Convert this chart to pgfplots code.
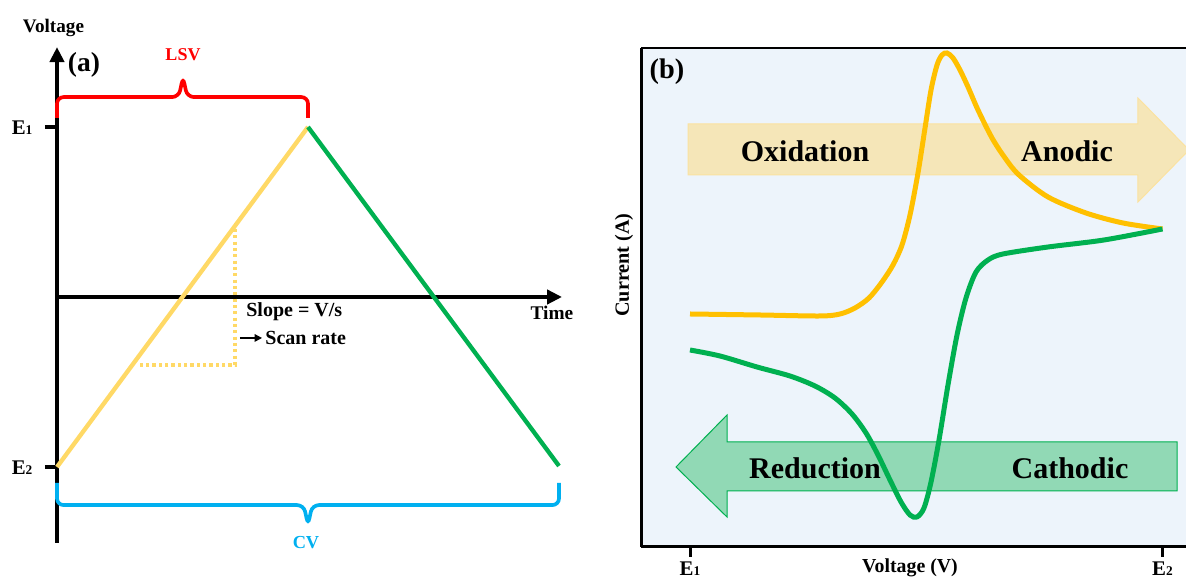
\documentclass[border=0pt]{standalone}
\usepackage{pgfplots}
\pgfplotsset{compat=1.18}
\usepackage{fontspec}
\setmainfont{Liberation Serif}
\usetikzlibrary{arrows.meta}
\definecolor{lyel}{HTML}{FFD966}
\definecolor{gyel}{HTML}{FFC000}
\definecolor{grn}{HTML}{00B050}
\definecolor{lsvred}{HTML}{FF0000}
\definecolor{cvblue}{HTML}{00B0F0}
\definecolor{bgblue}{HTML}{EDF4FB}
\definecolor{oxfill}{HTML}{F5E6B8}
\definecolor{oxedge}{HTML}{FBE2A0}
\definecolor{redfill}{HTML}{91D9B5}
\newcommand{\fs}[1]{\bfseries\fontsize{#1}{#1}\selectfont}
\newcommand{\Esub}[1]{E{\fontsize{8}{8}\selectfont #1}}
\begin{document}
\begin{tikzpicture}
% ---------------- (a) ----------------
\begin{axis}[at={(0pt,0pt)}, anchor=south west, x=150.6pt, y=102pt,
  xmin=-0.22709, xmax=2.16335, ymin=-1.68235, ymax=1.74706,
  axis lines=none, enlargelimits=false, clip=false]
\addplot[black, line width=2.4pt, -{Triangle[length=9pt,width=8.5pt]}] coordinates {(0,-1.447) (0,1.47)};
\addplot[black, line width=2.4pt, -{Triangle[length=9pt,width=8.5pt]}] coordinates {(0,0) (2.012,0)};
\addplot[black, line width=2.2pt] coordinates {(-0.048,1) (0,1)};
\addplot[black, line width=2.2pt] coordinates {(-0.048,-1) (0,-1)};
\addplot[lyel, line width=1.9pt, dash pattern=on 1.9pt off 1.9pt] coordinates {(0.709,0.40) (0.709,-0.40) (0.32,-0.40)};
\addplot[lyel, line width=2.6pt] coordinates {(0,-1) (1,1)};
\addplot[grn, line width=2.6pt] coordinates {(1,1) (2,-0.994)};
\addplot[black, line width=1pt, -{Triangle[length=4.5pt,width=4.5pt]}] coordinates {(0.729,-0.241) (0.817,-0.241)};
\addplot[lsvred, line width=2.2pt, rounded corners=4pt] coordinates {(0,1.053) (0,1.176) (0.485,1.176) (0.502,1.294) (0.519,1.176) (1,1.176) (1,1.053)};
\addplot[cvblue, line width=2.2pt, rounded corners=4pt] coordinates {(0,-1.094) (0,-1.224) (0.983,-1.224) (1,-1.341) (1.017,-1.224) (2,-1.224) (2,-1.094)};
\node[font=\fs{11.5}] at (axis cs:-0.014,1.582) {Voltage};
\node[font=\fs{16.5}] at (axis cs:0.1076,1.365) {(a)};
\node[font=\fs{10.8}, text=lsvred] at (axis cs:0.502,1.424) {LSV};
\node[font=\fs{11}, text=cvblue] at (axis cs:0.992,-1.447) {CV};
\node[font=\fs{11.6}] at (axis cs:1.972,-0.094) {Time};
\node[font=\fs{12}, anchor=west, inner sep=0pt] at (axis cs:0.753,-0.088) {Slope = V/s};
\node[font=\fs{12}, anchor=west, inner sep=0pt] at (axis cs:0.829,-0.241) {Scan rate};
\node[font=\fs{12.5}] at (axis cs:-0.139,0.994) {\Esub{1}};
\node[font=\fs{12.5}] at (axis cs:-0.139,-1.006) {\Esub{2}};
\end{axis}
% ---------------- (b) ----------------
\begin{axis}[at={(384.6pt,21.6pt)}, anchor=south west, x=283.5pt, y=60pt,
  xmin=-0.10370, xmax=1.04974, ymin=0, ymax=4.99,
  enlargelimits=false, clip=false,
  axis x line*=bottom, axis y line*=left,
  axis line style={line width=1.8pt, black},
  xtick={0,1}, xticklabels={\Esub{1},\Esub{2}},
  ytick=\empty, tick align=outside, major tick length=6pt,
  tick style={line width=1.8pt, black},
  xticklabel style={font=\fs{12.5}, yshift=0.5pt},
  axis background/.style={fill=bgblue},
  after end axis/.code={\draw[black, line width=1.2pt] (rel axis cs:0,1) -- (rel axis cs:1,1);}]
\addplot[fill=oxfill, draw=oxedge, line width=0.6pt] coordinates {(-0.00423,4.23) (0.9481,4.23) (0.9481,4.49) (1.0561,3.97) (0.9481,3.45) (0.9481,3.72) (-0.00423,3.72)} -- cycle;
\addplot[fill=redfill, draw=grn, line width=0.6pt] coordinates {(1.0307,1.05) (0.0783,1.05) (0.0783,1.32) (-0.0296,0.80) (0.0783,0.30) (0.0783,0.56) (1.0307,0.56)} -- cycle;
\node[font=\fs{18}] at (axis cs:0.2434,3.96) {Oxidation};
\node[font=\fs{18}] at (axis cs:0.7979,3.96) {Anodic};
\node[font=\fs{18}] at (axis cs:0.2646,0.79) {Reduction};
\node[font=\fs{18}] at (axis cs:0.8042,0.79) {Cathodic};
\addplot[gyel, line width=3pt, smooth, tension=0.5] coordinates {
(0,2.33) (0.1481,2.32) (0.2751,2.31) (0.3175,2.33) (0.3492,2.39) (0.3788,2.49) (0.4063,2.65)
(0.4296,2.82) (0.4487,3.02) (0.4656,3.32) (0.4825,3.74) (0.4974,4.19) (0.5101,4.57)
(0.5228,4.82) (0.5333,4.92) (0.5439,4.94) (0.5566,4.89) (0.5714,4.77) (0.5884,4.60)
(0.6095,4.37) (0.6392,4.09) (0.6667,3.89) (0.6963,3.72) (0.7577,3.50) (0.8381,3.34)
(0.9164,3.24) (1.0,3.18)};
\addplot[grn, line width=3pt, smooth, tension=0.5] coordinates {
(0,1.97) (0.0635,1.91) (0.1418,1.80) (0.2116,1.71) (0.2646,1.61) (0.3069,1.49) (0.3429,1.33)
(0.3725,1.14) (0.3979,0.92) (0.4233,0.67) (0.4466,0.45) (0.4656,0.32) (0.4804,0.30)
(0.4952,0.39) (0.5101,0.65) (0.5270,1.07) (0.5460,1.62) (0.5651,2.12) (0.5841,2.49)
(0.6053,2.75) (0.6307,2.87) (0.6624,2.93) (0.7577,3.00) (0.8762,3.07) (1.0,3.18)};
\node[font=\fs{17}] at (axis cs:-0.0487,4.75) {(b)};
\node[font=\fs{11.9}] at (axis cs:0.4656,-0.21) {Voltage (V)};
\node[font=\fs{12.1}, rotate=90] at (axis cs:-0.1397,2.82) {Current (A)};
\end{axis}
\pgfresetboundingbox
\useasboundingbox (0pt,0pt) rectangle (711.6pt,349.8pt);
\end{tikzpicture}
\end{document}
